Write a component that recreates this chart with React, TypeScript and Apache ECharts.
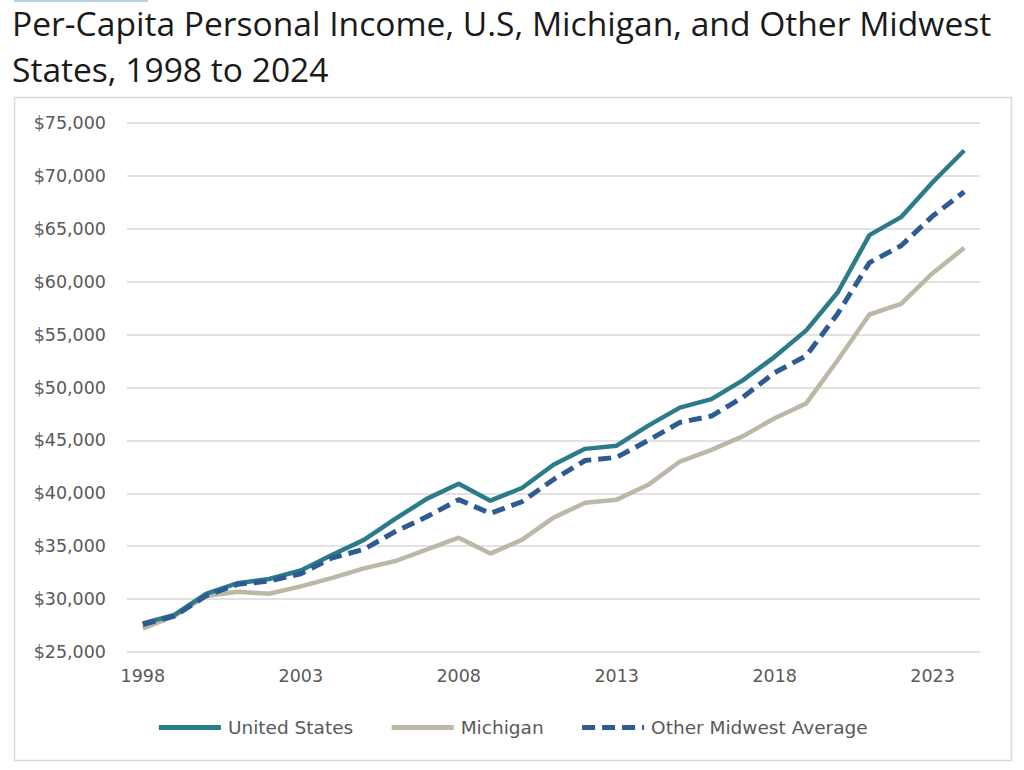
import React, { useEffect, useRef } from "react";
import * as echarts from "echarts";

const years = [
  "1998", "1999", "2000", "2001", "2002", "2003", "2004", "2005", "2006",
  "2007", "2008", "2009", "2010", "2011", "2012", "2013", "2014", "2015",
  "2016", "2017", "2018", "2019", "2020", "2021", "2022", "2023", "2024",
];

const unitedStates = [
  27700, 28500, 30500, 31500, 31900, 32700, 34200, 35600, 37600,
  39500, 40900, 39300, 40500, 42700, 44200, 44500, 46400, 48100,
  48900, 50700, 52900, 55400, 59000, 64400, 66100, 69400, 72400,
];

const michigan = [
  27200, 28400, 30300, 30700, 30500, 31200, 32000, 32900, 33600,
  34700, 35800, 34300, 35600, 37700, 39100, 39400, 40800, 43000,
  44100, 45400, 47100, 48500, 52600, 56900, 57900, 60800, 63200,
];

const otherMidwest = [
  27600, 28400, 30300, 31400, 31700, 32400, 33900, 34700, 36400,
  37800, 39400, 38100, 39200, 41300, 43100, 43400, 45000, 46700,
  47300, 49100, 51400, 53000, 57000, 61800, 63400, 66200, 68500,
];

const seriesNames = ["United States", "Michigan", "Other Midwest Average"];

export default function App() {
  const ref = useRef<HTMLDivElement>(null);

  useEffect(() => {
    if (!ref.current) return;
    const chart = echarts.init(ref.current, null, { renderer: "svg" });
    const axisFont = "DejaVu Sans, Verdana, sans-serif";
    chart.setOption({
      animation: false,
      backgroundColor: "#ffffff",
      title: {
        text: "Per-Capita Personal Income, U.S, Michigan, and Other Midwest\nStates, 1998 to 2024",
        left: 12,
        top: 0,
        padding: 0,
        textStyle: {
          fontFamily: "Open Sans, Noto Sans, sans-serif",
          fontSize: 33.6,
          fontWeight: "normal",
          color: "#1a1a1a",
          lineHeight: 46,
        },
      },
      graphic: [
        {
          type: "rect",
          shape: { x: 14, y: 0, width: 134, height: 2 },
          style: { fill: "#b4cfe9" },
          silent: true,
        },
        {
          type: "rect",
          shape: { x: 14.5, y: 97.5, width: 997, height: 663 },
          style: { fill: "none", stroke: "#d9d9d9", lineWidth: 1.5 },
          silent: true,
        },
      ],
      grid: {
        left: 127,
        right: 44,
        top: 123,
        bottom: 118,
        containLabel: false,
      },
      xAxis: {
        type: "category",
        data: years,
        boundaryGap: true,
        axisLine: { show: false },
        axisTick: { show: false },
        axisLabel: {
          interval: 4,
          margin: 15,
          fontFamily: axisFont,
          fontSize: 17.5,
          color: "#595959",
        },
        splitLine: { show: false },
      },
      yAxis: {
        type: "value",
        min: 25000,
        max: 75000,
        interval: 5000,
        axisLine: { show: false },
        axisTick: { show: false },
        axisLabel: {
          margin: 21,
          fontFamily: axisFont,
          fontSize: 17.5,
          color: "#595959",
          formatter: (v: number) => "$" + v.toLocaleString("en-US"),
        },
        splitLine: { lineStyle: { color: "#d9d9d9", width: 1.5 } },
      },
      legend: {
        data: seriesNames,
        top: 713,
        left: "center",
        itemWidth: 62,
        itemHeight: 1,
        itemGap: 36,
        lineStyle: { width: 5 },
        textStyle: {
          fontFamily: axisFont,
          fontSize: 18.5,
          color: "#595959",
          padding: [0, 0, 0, 2],
        },
      },
      series: [
        {
          name: seriesNames[0],
          type: "line",
          data: unitedStates,
          symbol: "none",
          lineStyle: { color: "#2b7b8b", width: 4.5 },
          itemStyle: { color: "#2b7b8b" },
          z: 3,
        },
        {
          name: seriesNames[1],
          type: "line",
          data: michigan,
          symbol: "none",
          lineStyle: { color: "#bcb7a6", width: 4.5 },
          itemStyle: { color: "#bcb7a6" },
          z: 2,
        },
        {
          name: seriesNames[2],
          type: "line",
          data: otherMidwest,
          symbol: "none",
          lineStyle: { color: "#2d5b92", width: 5, type: [13, 7] },
          itemStyle: { color: "#2d5b92" },
          z: 4,
        },
      ],
    });
    return () => chart.dispose();
  }, []);

  return (
    <div
      ref={ref}
      style={{ position: "fixed", left: 0, top: 0, width: 1024, height: 770 }}
    />
  );
}
